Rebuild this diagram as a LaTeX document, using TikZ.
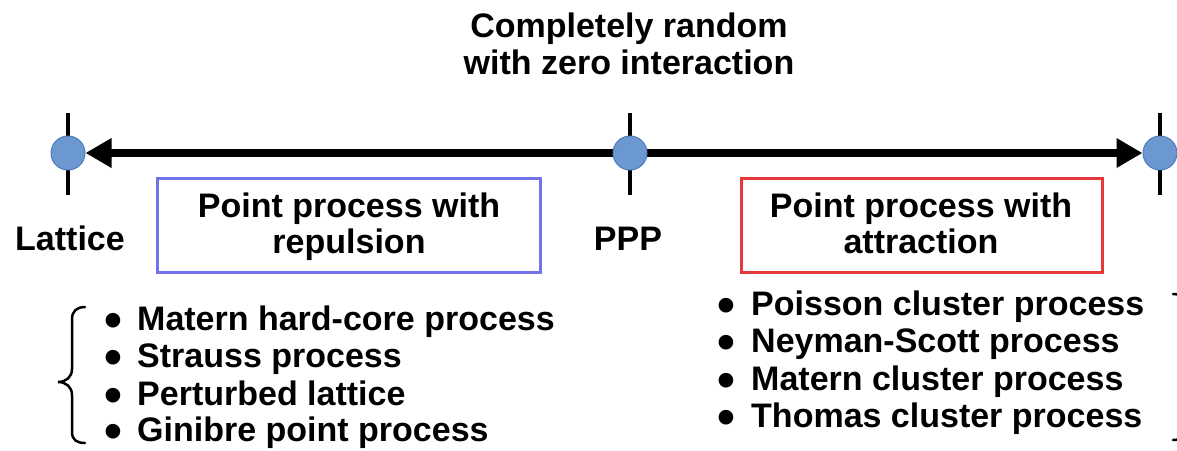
\documentclass[tikz,border=0pt]{standalone}
\usepackage{fontspec}
\setmainfont{Liberation Sans}
\usetikzlibrary{arrows.meta,backgrounds}

\definecolor{dotfill}{HTML}{6B98D1}
\definecolor{dotedge}{HTML}{4F7DB8}
\definecolor{repblue}{HTML}{7272EA}
\definecolor{attred}{HTML}{E5393B}

\newcommand{\bul}[1]{\makebox[#1][l]{\hspace{-1pt}\smash{\raisebox{-7.3pt}{\scalebox{1.5}{•}}}}}

\begin{document}
\begin{tikzpicture}[x=1pt,y=-1pt,
  txt/.style={font=\bfseries\fontsize{34}{37}\selectfont, inner sep=0pt},
  dot/.style={circle, fill=dotfill, draw=dotedge, line width=1pt,
              minimum size=34pt, inner sep=0pt},
  tickline/.style={line width=3.5pt},
  axisline/.style={line width=7.5pt,
              {Triangle[length=26pt,width=28pt]}-{Triangle[length=26pt,width=28pt]}},
  frame/.style={line width=3pt, minimum width=#1, minimum height=94pt, inner sep=0pt},
  brace/.style={line width=2.5pt, line cap=round},
  item/.style={txt, anchor=base west},
]
\useasboundingbox (0,0) rectangle (1177,450);
\clip (0,0) rectangle (1177,450);

% title
\node[txt, anchor=base] (t1) at (629,37) {Completely random};
\node[txt, anchor=base] (t2) at (629,74) {with zero interaction};

% the three marks on the axis
\node[dot] (lat) at (68,153) {};
\node[dot] (ppp) at (630,153) {};
\node[dot] (clu) at (1160,153) {};

\begin{scope}[on background layer]
  \foreach \n in {lat,ppp,clu}
    \draw[tickline] (\n.center) ++(0,-40) -- ++(0,82);
  \draw[axisline] (lat.east) -- (clu.west);
\end{scope}

% labels under the axis
\node[txt, anchor=base] (latl) at (70,250) {Lattice};
\node[txt, anchor=base] (pppl) at (628,250) {PPP};

% repulsion box
\node[frame=383pt, draw=repblue] (rep) at (348.5,225) {};
\node[txt, anchor=base] (rep1) at (349,217) {Point process with};
\node[txt, anchor=base] (rep2) at (349,253) {repulsion};

% attraction box
\node[frame=361pt, draw=attred] (att) at (921.5,225) {};
\node[txt, anchor=base] (att1) at (921,217) {Point process with};
\node[txt, anchor=base] (att2) at (921,253) {attraction};

% repulsive examples
\node[item] (r1) at (105,330) {\bul{32pt}Matern hard-core process};
\node[item] (r2) at (105,367.5) {\bul{32pt}Strauss process};
\node[item] (r3) at (105,405) {\bul{32pt}Perturbed lattice};
\node[item] (r4) at (105,441.5) {\bul{32pt}Ginibre point process};

% attractive examples
\node[item] (a1) at (718,315) {\bul{33pt}Poisson cluster process};
\node[item] (a2) at (718,352.5) {\bul{33pt}Neyman-Scott process};
\node[item] (a3) at (718,390) {\bul{33pt}Matern cluster process};
\node[item] (a4) at (718,427) {\bul{33pt}Thomas cluster process};

% left brace
\draw[brace] (85,307) .. controls (77,307) and (72,311) .. (72,319)
  -- (72,369) .. controls (72,377) and (66,382) .. (58,382)
  .. controls (66,382) and (72,387) .. (72,395)
  -- (72,432) .. controls (72,440) and (77,443) .. (85,443);

% right brace, running off the edge
\draw[brace] (1173,294) .. controls (1181,294) and (1186,298) .. (1186,306)
  -- (1186,356) .. controls (1186,364) and (1192,369) .. (1200,369)
  .. controls (1192,369) and (1186,374) .. (1186,382)
  -- (1186,428) .. controls (1186,436) and (1181,440) .. (1173,440);
\end{tikzpicture}
\end{document}
